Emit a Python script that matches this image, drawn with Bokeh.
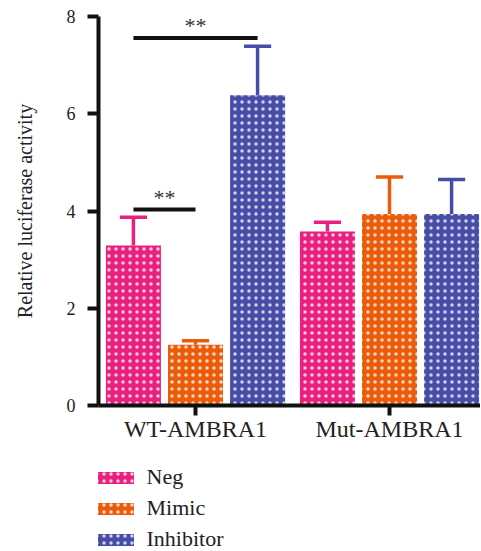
from bokeh.plotting import figure
from bokeh.layouts import column
from bokeh.models import Range1d, FixedTicker, Legend, LegendItem
from bokeh.core.properties import value
from bokeh.embed import file_html
from bokeh.resources import INLINE

groups = ["WT-AMBRA1", "Mut-AMBRA1"]
series = ["Neg", "Mimic", "Inhibitor"]
colors = ["#E8207E", "#EB5C0A", "#474DA6"]
neg = [3.29, 3.58]
mimic = [1.25, 3.94]
inhibitor = [6.38, 3.94]
neg_err = [0.58, 0.19]
mimic_err = [0.08, 0.76]
inhibitor_err = [1.01, 0.71]
y_ticks = [0, 2, 4, 6, 8]
# significance brackets: group, first series, second series, level, label
sig_group = [0, 0]
sig_a = [0, 0]
sig_b = [2, 1]
sig_level = [7.56, 4.03]
sig_label = ["**", "**"]

values = [neg, mimic, inhibitor]
errors = [neg_err, mimic_err, inhibitor_err]
offsets = [-0.32, 0.0, 0.32]
bar_w = 0.2835
cap_half = 0.07
FONT = "Liberation Serif"
INK = "#111111"
HATCH = dict(hatch_pattern="dot", hatch_color="white", hatch_scale=7,
             hatch_weight=0.5, hatch_alpha=0.75)

p = figure(width=480, height=450, output_backend="svg", toolbar_location=None,
           x_range=Range1d(0, 1.969), y_range=Range1d(0, 8),
           min_border_left=98, min_border_right=0, min_border_top=16,
           min_border_bottom=45)
p.outline_line_color = None
p.xgrid.visible = False
p.ygrid.visible = False

for si, name in enumerate(series):
    xs = [gi + 0.5 + offsets[si] for gi in range(len(groups))]
    tops = values[si]
    ups = [t + e for t, e in zip(tops, errors[si])]
    p.vbar(x=xs, top=tops, bottom=0, width=bar_w,
           fill_color=colors[si], line_color=None, **HATCH)
    p.segment(x0=xs, y0=tops, x1=xs, y1=ups, line_color=colors[si], line_width=3.5)
    p.segment(x0=[x - cap_half for x in xs], y0=ups, x1=[x + cap_half for x in xs], y1=ups,
              line_color=colors[si], line_width=3.5)

sx0 = [g + 0.5 + offsets[a] for g, a in zip(sig_group, sig_a)]
sx1 = [g + 0.5 + offsets[b] for g, b in zip(sig_group, sig_b)]
p.segment(x0=sx0, y0=sig_level, x1=sx1, y1=sig_level, line_color=INK, line_width=4)
p.text(x=[(a + b) / 2 for a, b in zip(sx0, sx1)], y=sig_level, text=sig_label,
       text_align="center", text_baseline="alphabetic", y_offset=-12,
       text_font=value(FONT), text_font_size="22px", text_color="#333333")

for ax in (p.xaxis[0], p.yaxis[0]):
    ax.axis_line_width = 4
    ax.axis_line_color = INK
    ax.major_tick_line_width = 4
    ax.major_tick_line_color = INK
    ax.major_tick_in = 0
    ax.minor_tick_line_color = None
    ax.major_label_text_font = FONT
    ax.major_label_text_color = "#222222"

p.yaxis.ticker = FixedTicker(ticks=y_ticks)
p.yaxis.major_tick_out = 11
p.yaxis.major_label_text_font_size = "18px"
p.yaxis.major_label_standoff = 12
p.yaxis.axis_label = "Relative luciferase activity"
p.yaxis.axis_label_text_font = FONT
p.yaxis.axis_label_text_font_size = "20px"
p.yaxis.axis_label_text_font_style = "normal"
p.yaxis.axis_label_text_color = "#222222"
p.yaxis.axis_label_standoff = 28

group_ticks = [gi + 0.5 for gi in range(len(groups))]
p.xaxis.ticker = FixedTicker(ticks=group_ticks)
p.xaxis.major_tick_out = 10
p.xaxis.major_label_overrides = {t: g for t, g in zip(group_ticks, groups)}
p.xaxis.major_label_text_font_size = "24px"
p.xaxis.major_label_standoff = 0

# legend panel (separate figure so that the legend sits below the axis)
lg = figure(width=480, height=100, output_backend="svg", toolbar_location=None,
            x_range=Range1d(0, 1), y_range=Range1d(0, 1),
            min_border_left=98, min_border_top=0, min_border_right=0,
            min_border_bottom=0, outline_line_color=None)
lg.axis.visible = False
lg.xgrid.visible = False
lg.ygrid.visible = False
items = []
for si, name in enumerate(series):
    # zero-height proxy bar, used only for the legend swatch
    r = lg.vbar(x=[0.5], top=[0], bottom=[0], width=0.1, fill_color=colors[si],
                line_color=None, **HATCH)
    items.append(LegendItem(label=name, renderers=[r]))
legend = Legend(items=items, location=(-5.5, -2), orientation="vertical",
                glyph_width=45, glyph_height=15, label_standoff=9, label_height=15,
                spacing=5, padding=0, margin=0, border_line_color=None,
                background_fill_alpha=0, label_text_font=FONT,
                label_text_font_size="22px", label_text_color="#222222")
lg.add_layout(legend, "center")

open("out.html", "w").write(file_html(column(p, lg, spacing=0), INLINE))
